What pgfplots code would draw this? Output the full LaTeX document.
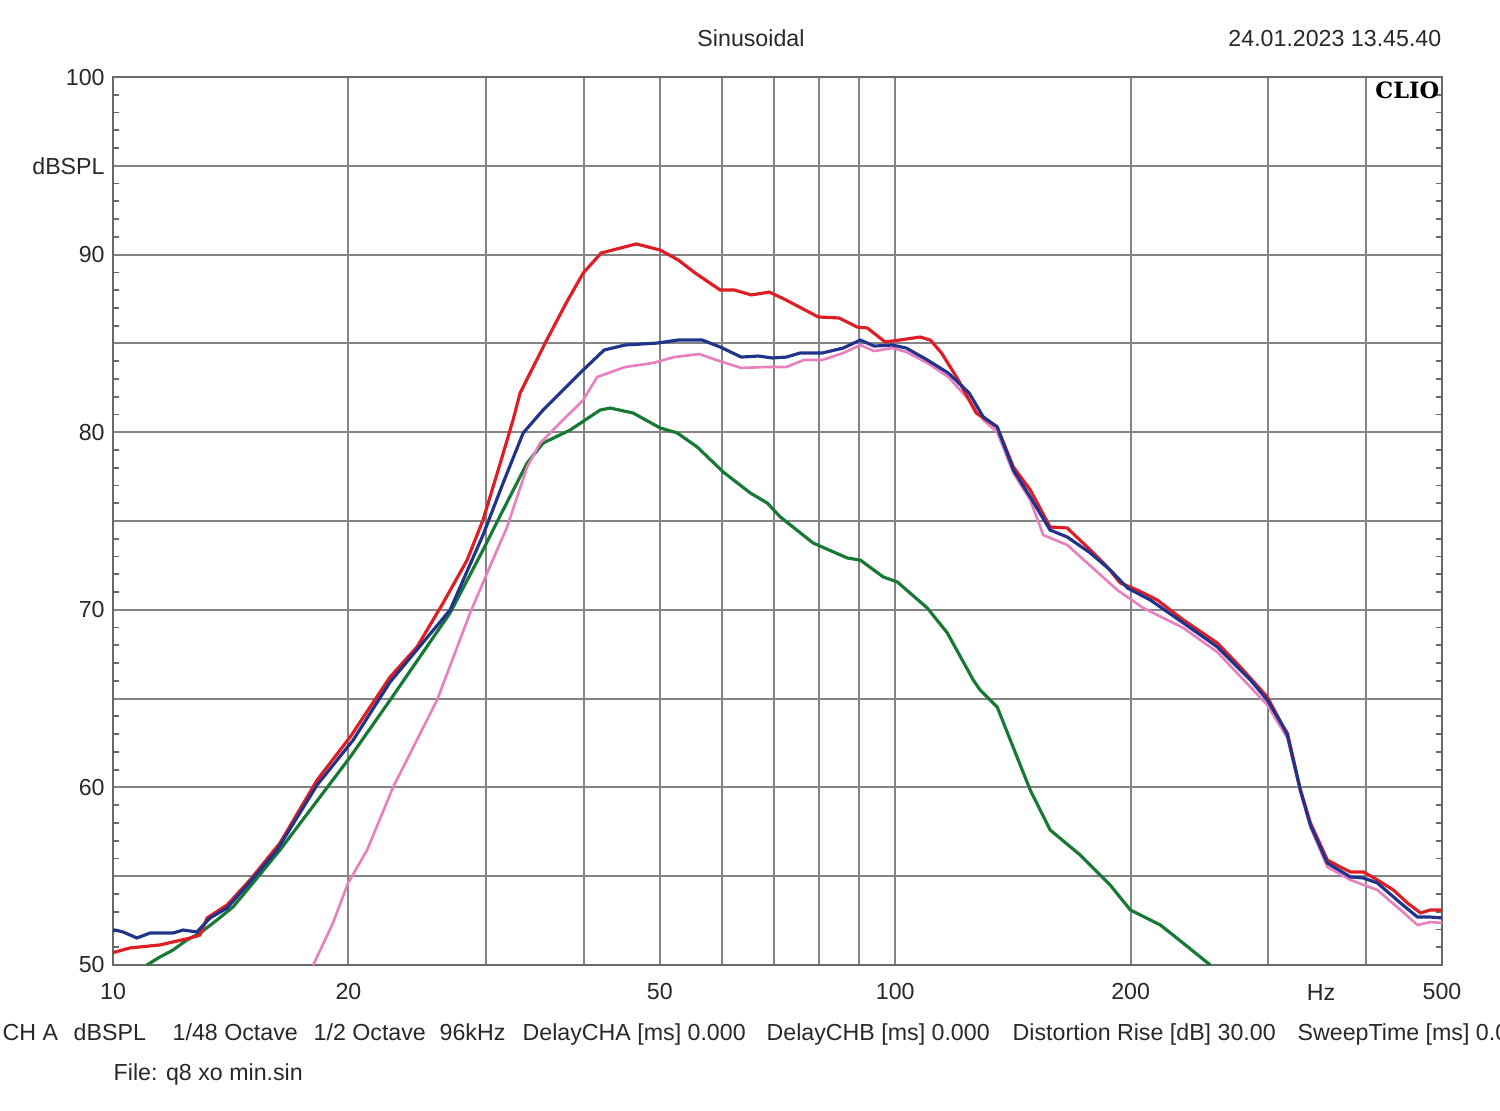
\documentclass[border=0pt]{standalone}
\usepackage{fontspec}
\setmainfont{Liberation Sans}
\newfontfamily\cliofont{DejaVu Serif}
\usepackage{pgfplots}
\pgfplotsset{compat=1.18}
\definecolor{cred}{RGB}{222,30,36}
\definecolor{cblue}{RGB}{32,52,140}
\definecolor{cpink}{RGB}{232,128,190}
\definecolor{cgreen}{RGB}{22,122,52}
\definecolor{cgrid}{RGB}{132,132,132}
\definecolor{cframe}{RGB}{105,105,105}
\definecolor{ctext}{RGB}{40,40,40}

\begin{document}
\begin{tikzpicture}[font=\fontsize{6.6}{8}\selectfont]
\useasboundingbox (-11.3mm,-14.5mm) rectangle (138.7mm,96.5mm);
\clip (-11.3mm,-14.5mm) rectangle (138.7mm,96.5mm);
\begin{axis}[
  scale only axis, width=132.9mm, height=88.8mm,
  xmode=log, xmin=10, xmax=500, ymin=50, ymax=100,
  xtick={10,20,30,40,50,60,70,80,90,100,200,300,400,500},
  xticklabels={10,20,,,50,,,,,100,200,,,500},
  ytick={50,55,60,65,70,75,80,85,90,95,100},
  yticklabels={50,,60,,70,,80,,90,dBSPL,100},
  minor ytick={51,52,53,54,56,57,58,59,61,62,63,64,66,67,68,69,71,72,73,74,76,77,78,79,81,82,83,84,86,87,88,89,91,92,93,94,96,97,98,99},
  grid=major,
  major grid style={cgrid, line width=0.55pt},
  axis line style={cframe, line width=0.8pt},
  major tick length=0pt,
  minor tick length=0.6mm,
  minor tick style={cframe, line width=0.5pt},
  tick align=inside,
  xticklabel style={yshift=-0.6mm},
  yticklabel style={xshift=0.4mm},
  ticklabel style={font=\fontsize{6.6}{8}\selectfont, text=ctext},
]
% green
\addplot[cgreen, line width=0.9pt] coordinates {
(11.05,50.0) (11.48,50.45) (11.93,50.84) (12.43,51.41) (12.92,51.80) (13.58,52.53)
(14.24,53.27) (15.10,54.62) (16.35,56.48) (20.10,61.71) (22.61,64.92) (26.97,69.82)
(29.72,73.37) (31.53,75.62) (33.84,78.27) (35.47,79.39) (38.40,80.12) (41.96,81.25)
(43.21,81.36) (46.24,81.08) (50.06,80.24) (52.63,79.96) (55.82,79.17) (60.27,77.76)
(65.27,76.58) (68.62,76.01) (71.29,75.23) (78.55,73.76) (86.82,72.92) (90.22,72.80)
(96.53,71.85) (100.6,71.57) (109.9,70.10) (116.6,68.69) (125.8,66.05) (128.4,65.48)
(135.0,64.53) (140.3,62.67) (148.8,59.85) (157.8,57.60) (172.4,56.19) (188.3,54.50)
(199.8,53.10) (218.3,52.25) (234.9,51.13) (252.8,50.0)
};
% pink
\addplot[cpink, line width=0.75pt] coordinates {
(18.03,50.0) (19.11,52.37) (19.98,54.62) (21.13,56.48) (22.81,60.02) (25.96,64.92)
(28.61,69.82) (30.08,72.07) (31.90,74.66) (33.84,78.04) (35.16,79.39) (37.62,80.69)
(39.91,81.81) (41.59,83.11) (45.16,83.67) (49.03,83.90) (52.17,84.23) (56.15,84.40)
(59.03,84.07) (63.56,83.62) (68.21,83.67) (72.56,83.67) (76.48,84.07) (80.67,84.07)
(85.81,84.46) (90.22,84.91) (93.99,84.57) (99.13,84.74) (103.3,84.52) (109.9,83.90)
(116.9,83.11) (124.3,81.81) (129.6,80.69) (135.0,80.01) (141.6,77.70) (148.8,76.18)
(154.6,74.21) (165.9,73.65) (192.3,71.11) (207.6,70.10) (233.5,68.98) (258.1,67.62)
(299.0,64.64) (317.2,62.78) (329.6,59.74) (339.4,57.77) (356.8,55.52) (381.8,54.79)
(413.4,54.22) (442.5,53.10) (465.2,52.25) (483.3,52.42) (500,52.37)
};
% red
\addplot[cred, line width=0.9pt] coordinates {
(10,50.70) (10.51,50.96) (11.48,51.13) (12.55,51.52) (12.92,51.69) (13.19,52.65)
(13.99,53.38) (14.97,54.79) (16.35,56.87) (18.24,60.42) (20.10,62.84) (22.61,66.22)
(24.47,67.91) (26.42,70.38) (28.36,72.80) (29.72,75.06) (31.16,78.04) (32.47,80.69)
(33.15,82.21) (35.68,85.02) (37.96,87.27) (39.91,88.96) (42.07,90.09) (46.65,90.60)
(50.06,90.26) (52.79,89.70) (55.51,88.96) (59.73,88.01) (62.25,88.01) (65.46,87.73)
(69.03,87.89) (72.56,87.44) (79.72,86.49) (84.81,86.43) (89.43,85.92) (92.10,85.87)
(97.09,85.08) (101.2,85.19) (107.6,85.36) (110.9,85.19) (114.6,84.46) (120.4,82.94)
(126.9,81.08) (135.0,80.29) (141.6,78.04) (148.8,76.75) (157.8,74.66) (165.9,74.61)
(177.6,73.37) (186.7,72.41) (194.0,71.51) (204.0,71.11) (216.3,70.55) (233.5,69.43)
(258.1,68.13) (276.2,66.78) (299.0,65.09) (313.5,63.40) (317.2,63.06) (329.6,59.85)
(339.4,58.00) (356.8,55.91) (370.7,55.52) (381.8,55.24) (396.7,55.24) (413.4,54.79)
(433.5,54.22) (451.7,53.49) (469.3,52.93) (483.3,53.10) (500,53.10)
};
% blue
\addplot[cblue, line width=0.9pt] coordinates {
(10,51.90) (10.06,51.97) (10.30,51.86) (10.73,51.52) (11.15,51.80) (11.93,51.80)
(12.29,51.97) (12.80,51.86) (13.31,52.65) (13.99,53.21) (14.66,54.22) (15.42,55.35)
(16.21,56.48) (18.24,60.14) (20.28,62.67) (22.61,65.94) (26.97,69.99) (29.72,74.21)
(31.53,77.14) (33.45,79.96) (35.47,81.25) (37.96,82.55) (39.91,83.50) (42.45,84.63)
(45.16,84.91) (49.62,85.02) (52.79,85.19) (56.65,85.19) (59.73,84.80) (63.56,84.23)
(66.82,84.29) (69.63,84.18) (72.56,84.23) (75.60,84.46) (80.67,84.46) (85.81,84.74)
(90.22,85.19) (93.99,84.85) (99.13,84.91) (103.3,84.74) (109.9,84.07) (116.9,83.33)
(124.3,82.21) (129.6,80.86) (135.0,80.30) (141.6,77.87) (148.8,76.35) (157.8,74.49)
(165.9,74.10) (177.6,73.20) (188.3,72.24) (198.1,71.23) (211.9,70.55) (233.5,69.26)
(258.1,67.91) (284.4,66.05) (299.0,64.92) (313.5,63.40) (317.2,62.95) (329.6,59.85)
(339.4,57.88) (356.8,55.74) (381.8,54.96) (396.7,54.90) (413.4,54.62) (442.5,53.49)
(465.2,52.70) (483.3,52.70) (500,52.65)
};
\end{axis}
\begin{scope}[every node/.style={inner sep=0pt, text=ctext}]
\node[anchor=base] at (120.8mm,-3.5mm) {Hz};
\node[anchor=base] at (63.8mm,91.9mm) {Sinusoidal};
\node[anchor=base east] at (132.9mm,91.9mm) {24.01.2023 13.45.40};
\node[anchor=base east, text=black] at (132.7mm,86.7mm) {\cliofont\bfseries\fontsize{6.4}{7}\selectfont CLIO};
\node[anchor=base west] at (-11.1mm,-7.5mm) {CH A};
\node[anchor=base west] at (-4.0mm,-7.5mm) {dBSPL};
\node[anchor=base west] at (5.9mm,-7.5mm) {1/48 Octave};
\node[anchor=base west] at (20.0mm,-7.5mm) {1/2 Octave};
\node[anchor=base west] at (32.6mm,-7.5mm) {96kHz};
\node[anchor=base west] at (40.9mm,-7.5mm) {DelayCHA [ms] 0.000};
\node[anchor=base west] at (65.3mm,-7.5mm) {DelayCHB [ms] 0.000};
\node[anchor=base west] at (89.9mm,-7.5mm) {Distortion Rise [dB] 30.00};
\node[anchor=base west] at (118.4mm,-7.5mm) {SweepTime [ms] 0.000};
\node[anchor=base west] at (0mm,-11.5mm) {File: q8 xo min.sin};
\end{scope}
\end{tikzpicture}
\end{document}
